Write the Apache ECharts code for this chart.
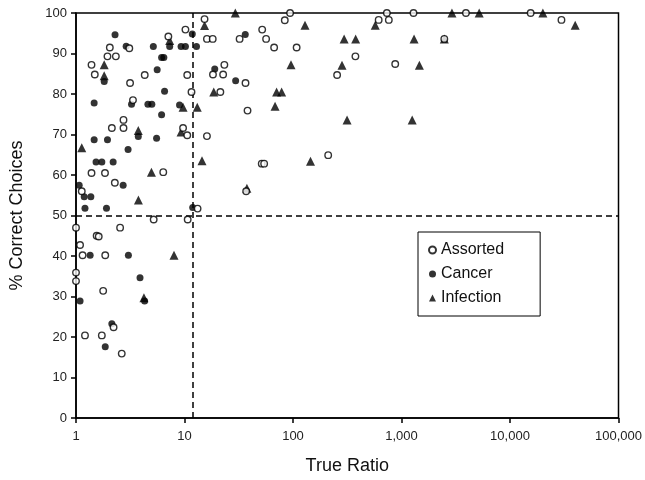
<!DOCTYPE html>
<html>
<head>
<meta charset="utf-8">
<script src="https://cdn.jsdelivr.net/npm/echarts@6/dist/echarts.min.js"></script>
<style>
html,body{margin:0;padding:0;background:#fff;}
#main{width:645px;height:480px;}
</style>
</head>
<body>
<div id="main"></div>
<script>
// [trueRatio, percentCorrect]
const assorted = [
  [1.0,47],[2.55,47],[5.2,49],[10.7,49],[1.55,45],[1.62,44.8],[1.09,42.7],[1.15,40.2],[1.86,40.2],
  [1.0,35.9],[1.0,33.8],[1.78,31.4],[2.22,22.4],[1.21,20.4],[1.73,20.4],[2.64,15.9],
  [2.74,73.6],[2.74,71.6],[2.14,71.6],[1.39,60.5],[1.85,60.5],[2.28,58.1],[1.13,56],
  [3.1,91.3],[2.05,91.5],[1.95,89.3],[2.33,89.3],[1.39,87.2],[1.49,84.8],[3.15,82.7],[3.35,78.5],
  [7.1,94.2],[10.2,95.9],[4.3,84.7],[10.6,84.7],[9.7,71.6],[10.6,69.8],[6.37,60.7],[13.2,51.7],[11.6,80.5],
  [94,100],[15.3,98.5],[84,98.2],[16.1,93.6],[18.2,93.6],[32.2,93.6],[52,95.9],[56.5,93.6],[67,91.5],[108,91.5],
  [18.3,84.8],[22.7,84.8],[23.3,87.2],[36.5,82.7],[21.4,80.5],[38.1,75.9],[16.1,69.6],[51.5,62.8],[54.2,62.8],[37,56],
  [733,100],[1290,100],[616,98.3],[764,98.3],[2480,93.6],[376,89.3],[875,87.4],[255,84.7],[211,64.9],
  [3925,100],[15500,100],[29800,98.3]
];
const cancer = [
  [3.04,40.2],[1.35,40.2],[3.89,34.6],[1.09,28.9],[4.29,28.9],[2.14,23.3],[1.86,17.6],
  [1.21,51.8],[1.91,51.8],[11.9,52],
  [1.47,68.7],[1.95,68.7],[3.02,66.3],[1.53,63.2],[1.73,63.2],[2.2,63.2],[2.72,57.5],[1.07,57.5],[1.19,54.6],[1.37,54.6],
  [2.29,94.6],[2.9,91.8],[1.82,83.1],[1.47,77.8],[3.25,77.5],
  [5.16,91.7],[7.3,91.7],[9.3,91.7],[10.2,91.7],[12.9,91.7],[6.15,89],[6.45,89],[5.6,86],[6.55,80.7],
  [4.6,77.5],[5.0,77.5],[9.0,77.3],[6.15,74.9],[3.75,69.5],[5.53,69.1],
  [11.8,94.8],[36.3,94.7],[19,86.2],[29.6,83.3]
];
const infection = [
  [8.0,40.2],[4.23,29.7],[1.13,66.7],[1.82,87.2],[1.82,84.5],[3.75,71],[4.96,60.7],[3.76,53.8],[7.3,93.2],
  [9.7,76.7],[13.1,76.7],[9.3,70.6],
  [29.4,100],[15.3,96.9],[95.9,87.2],[18.6,80.5],[70.6,80.5],[78.6,80.5],[68.3,77],[14.5,63.5],[37.6,56.7],
  [129,97],[573,97],[296,93.6],[378,93.6],[1305,93.6],[2480,93.6],[283,87.1],[1462,87.1],[315,73.6],[1254,73.6],[145,63.4],
  [2917,100],[5197,100],[20090,100],[39900,97]
];
const thresholdY = 50;
const thresholdX = 12;
const xTitle = 'True Ratio';
const yTitle = '% Correct Choices';

const font = '"Liberation Sans", Arial, sans-serif';
const chart = echarts.init(document.getElementById('main'), null, {renderer:'canvas'});
chart.setOption({
  animation: false,
  backgroundColor: '#fff',
  grid: {left: 75, right: 25, top: 13, bottom: 60, show: true, borderColor: '#000', borderWidth: 1.5},
  legend: {
    orient: 'vertical', left: 418, top: 232,
    padding: [10, 36, 10, 10],
    itemGap: 8, itemWidth: 7, itemHeight: 7,
    borderColor: '#000', borderWidth: 1,
    textStyle: {fontFamily: font, fontSize: 16, color: '#111'},
    data: [
      {name: 'Assorted', icon: 'circle'},
      {name: 'Cancer', icon: 'circle'},
      {name: 'Infection', icon: 'triangle'}
    ]
  },
  xAxis: {
    type: 'log', logBase: 10, min: 1, max: 100000,
    name: xTitle, nameLocation: 'middle', nameGap: 39,
    nameTextStyle: {fontFamily: font, fontSize: 18, color: '#111'},
    axisLine: {lineStyle: {color: '#000', width: 1.5}},
    axisTick: {show: true, length: 5, lineStyle: {color: '#000', width: 1.5}},
    minorTick: {show: false},
    splitLine: {show: false},
    axisLabel: {fontFamily: font, fontSize: 13, color: '#222', margin: 12,
      formatter: v => Number(v).toLocaleString('en-US')}
  },
  yAxis: {
    type: 'value', min: 0, max: 100, interval: 10,
    name: yTitle, nameLocation: 'middle', nameGap: 50,
    nameTextStyle: {fontFamily: font, fontSize: 18, color: '#111'},
    axisLine: {show: true, lineStyle: {color: '#000', width: 1.5}},
    axisTick: {show: true, length: 5, lineStyle: {color: '#000', width: 1.5}},
    splitLine: {show: false},
    axisLabel: {fontFamily: font, fontSize: 13, color: '#222', margin: 9}
  },
  series: [
    {
      name: 'Infection', type: 'scatter', symbol: 'triangle', symbolSize: 9,
      itemStyle: {color: '#000'}, data: infection, z: 3,
      markLine: {
        silent: true, symbol: 'none', animation: false,
        lineStyle: {color: '#000', width: 1.5, type: [6, 4]},
        label: {show: false},
        data: [{yAxis: thresholdY}, {xAxis: thresholdX}]
      }
    },
    {
      name: 'Cancer', type: 'scatter', symbol: 'circle', symbolSize: 7,
      itemStyle: {color: '#000'}, data: cancer, z: 4
    },
    {
      name: 'Assorted', type: 'scatter', symbol: 'circle', symbolSize: 6.5,
      itemStyle: {color: '#fff', borderColor: '#000', borderWidth: 1.4}, data: assorted, z: 5
    }
  ]
});
</script>
</body>
</html>
